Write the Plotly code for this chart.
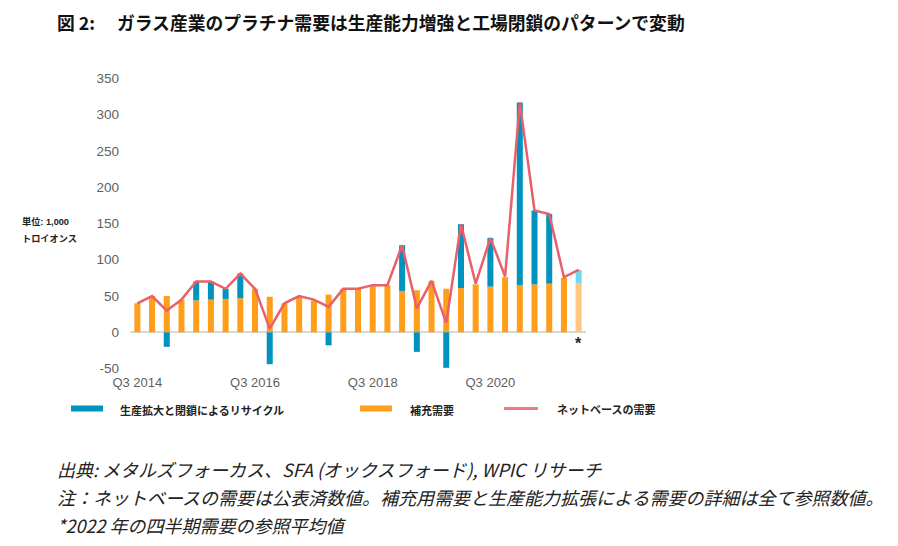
import plotly.graph_objects as go

quarters = [
    "Q3 2014", "Q4 2014", "Q1 2015", "Q2 2015", "Q3 2015", "Q4 2015",
    "Q1 2016", "Q2 2016", "Q3 2016", "Q4 2016", "Q1 2017", "Q2 2017",
    "Q3 2017", "Q4 2017", "Q1 2018", "Q2 2018", "Q3 2018", "Q4 2018",
    "Q1 2019", "Q2 2019", "Q3 2019", "Q4 2019", "Q1 2020", "Q2 2020",
    "Q3 2020", "Q4 2020", "Q1 2021", "Q2 2021", "Q3 2021", "Q4 2021",
    "2022*",
]
replenishment = [40, 50, 50, 45, 44, 45, 46, 47, 60, 49, 40, 50, 44, 52, 60, 60,
                 65, 65, 57, 58, 71, 60, 61, 66, 63, 76, 65, 66, 67, 75, 68]
expansion = [0, 0, -20, 0, 26, 25, 14, 34, 0, -44, 0, 0, 0, -18, 0, 0,
             0, 0, 63, -27, 0, -49, 88, 0, 67, 0, 252, 102, 96, 0, 18]
net_demand = [40, 50, 30, 45, 70, 70, 60, 81, 60, 5, 40, 50, 45, 35, 60, 60,
              65, 65, 120, 33, 71, 13, 149, 67, 130, 77, 317, 168, 163, 76, 86]
tick_labels = ["Q3 2014", "Q3 2016", "Q3 2018", "Q3 2020"]
y_ticks = [-50, 0, 50, 100, 150, 200, 250, 300, 350]

BLUE = "#0093bf"
ORANGE = "#ff9e1b"
LIGHT_BLUE = "#6fd9f3"
LIGHT_ORANGE = "#ffc77f"
RED = "#e8606a"
CJK = "Liberation Sans, Noto Sans CJK JP, sans-serif"

W, H = 898, 546
ML, MR, MT, MB = 130, 312, 77, 176
PW, PH = W - ML - MR, H - MT - MB


def px(x):
    return (x - ML) / PW


def py(y):
    return (H - MB - y) / PH


n = len(quarters)
orange_cols = [ORANGE] * (n - 1) + [LIGHT_ORANGE]
blue_cols = [BLUE] * (n - 1) + [LIGHT_BLUE]

fig = go.Figure()
fig.add_bar(x=quarters, y=replenishment, marker_color=orange_cols,
            marker_line_width=0, name="補充需要", showlegend=False)
fig.add_bar(x=quarters, y=expansion, marker_color=blue_cols,
            marker_line_width=0, name="生産拡大と閉鎖によるリサイクル", showlegend=False)
fig.add_scatter(x=quarters, y=net_demand, mode="lines",
                line=dict(color=RED, width=2.5), name="ネットベースの需要",
                showlegend=False)

fig.update_layout(
    width=W, height=H,
    margin=dict(l=ML, r=MR, t=MT, b=MB),
    paper_bgcolor="white", plot_bgcolor="white",
    barmode="relative", bargap=0.59,
    font=dict(family=CJK, color="#222222"),
    showlegend=False,
)
fig.update_xaxes(
    type="category", range=[-0.5, n - 0.5],
    tickmode="array", tickvals=[quarters[0], quarters[8], quarters[16], quarters[24]],
    ticktext=tick_labels, ticks="", showgrid=False, showline=False, zeroline=False,
    tickfont=dict(size=13, color="#5f5f5f", family="Liberation Sans, Arial"),
    ticklabelstandoff=3,
)
fig.update_yaxes(
    range=[-52, 352], tickmode="array", tickvals=y_ticks,
    ticktext=[str(v) for v in y_ticks],
    ticks="", showgrid=False, showline=False,
    zeroline=True, zerolinecolor="#d8d8d8", zerolinewidth=1.5,
    tickfont=dict(size=13.5, color="#5f5f5f", family="Liberation Sans, Arial"),
    ticklabelstandoff=10,
)

ann = []
ann.append(dict(text="<b>図 2:　 ガラス産業のプラチナ需要は生産能力増強と工場閉鎖のパターンで変動</b>",
                x=px(55), y=py(22), xref="paper", yref="paper", xanchor="left",
                yanchor="middle", showarrow=False,
                font=dict(size=17.8, color="#111111", family="Noto Sans CJK JP")))
ann.append(dict(text="<b>単位: 1,000</b>", x=px(20), y=py(221), xref="paper", yref="paper",
                xanchor="left", yanchor="middle", showarrow=False,
                font=dict(size=9.2, color="#222222")))
ann.append(dict(text="<b>トロイオンス</b>", x=px(20), y=py(239), xref="paper", yref="paper",
                xanchor="left", yanchor="middle", showarrow=False,
                font=dict(size=9.2, color="#222222")))
ann.append(dict(text="<b>*</b>", x=quarters[-1], y=-15, xref="x", yref="y",
                xanchor="center", yanchor="middle", showarrow=False,
                font=dict(size=16, color="#222222")))

legend_items = [
    (71, 103, 118, "生産拡大と閉鎖によるリサイクル", BLUE, "rect"),
    (360, 392, 408, "補充需要", ORANGE, "rect"),
    (504, 538, 555, "ネットベースの需要", RED, "line"),
]
shapes = []
for x0, x1, tx, label, col, kind in legend_items:
    if kind == "rect":
        shapes.append(dict(type="rect", xref="paper", yref="paper",
                           x0=px(x0), x1=px(x1), y0=py(411.5), y1=py(405.5),
                           fillcolor=col, line_width=0))
    else:
        shapes.append(dict(type="line", xref="paper", yref="paper",
                           x0=px(x0), x1=px(x1), y0=py(408.5), y1=py(408.5),
                           line=dict(color="#f07a80", width=3)))
    ann.append(dict(text="<b>" + label + "</b>", x=px(tx), y=py(410), xref="paper",
                    yref="paper", xanchor="left", yanchor="middle", showarrow=False,
                    font=dict(size=11, color="#222222")))

notes = [
    "出典: メタルズフォーカス、SFA (オックスフォード), WPIC リサーチ",
    "注：ネットベースの需要は公表済数値。補充用需要と生産能力拡張による需要の詳細は全て参照数値。",
    "*2022 年の四半期需要の参照平均値",
]
for i, t in enumerate(notes):
    ann.append(dict(text="<i>" + t + "</i>", x=px(55), y=py(469 + 28 * i), xref="paper",
                    yref="paper", xanchor="left", yanchor="middle", showarrow=False,
                    font=dict(size=18, color="#222222", family="Noto Sans CJK JP")))

fig.update_layout(annotations=ann, shapes=shapes)
fig.write_html("out.html", config={"displayModeBar": False},
               post_script="document.body.style.margin='0px';document.body.style.overflow='hidden';")
